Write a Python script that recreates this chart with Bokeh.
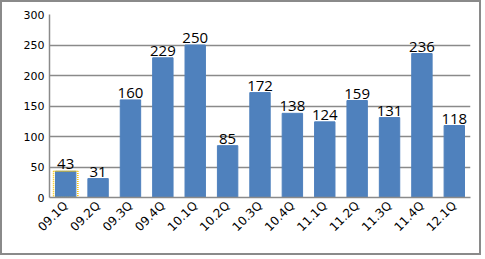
import math
from bokeh.plotting import figure
from bokeh.models import ColumnDataSource, FixedTicker
from bokeh.core.properties import value
from bokeh.embed import file_html
from bokeh.resources import INLINE

quarters = ["09.1Q", "09.2Q", "09.3Q", "09.4Q", "10.1Q", "10.2Q", "10.3Q",
            "10.4Q", "11.1Q", "11.2Q", "11.3Q", "11.4Q", "12.1Q"]
values = [43, 31, 160, 229, 250, 85, 172, 138, 124, 159, 131, 236, 118]
y_ticks = [0, 50, 100, 150, 200, 250, 300]

src = ColumnDataSource(dict(x=quarters, top=values, label=[str(v) for v in values]))

p = figure(x_range=quarters, y_range=(0, 300), width=481, height=255,
           output_backend="svg", toolbar_location=None,
           min_border_left=47, min_border_right=13, min_border_top=12,
           min_border_bottom=60)
p.styles = {"border": "2px solid #8a8a8a"}
p.outline_line_color = None
p.background_fill_color = "white"
p.border_fill_color = "white"

p.vbar(x="x", top="top", width=0.63, source=src, color="#4f81bd")
# selection outline on first bar
p.vbar(x=[quarters[0]], top=[values[0]], width=0.75, fill_color=None,
       line_color="#f5c400", line_dash="1 1", line_width=1.5)

p.text(x="x", y="top", text="label", source=src, text_align="center",
       text_baseline="bottom", y_offset=-2,
       text_font=value("Open Sans"), text_font_size="15px", text_color="black")

p.yaxis.ticker = FixedTicker(ticks=y_ticks)
p.ygrid.grid_line_color = "#8a8a8a"
p.ygrid.grid_line_width = 1.5
p.xgrid.grid_line_color = None

for ax in (p.xaxis, p.yaxis):
    ax.axis_line_color = "#8a8a8a"
    ax.axis_line_width = 1.5
    ax.major_tick_line_color = None
    ax.minor_tick_line_color = None
    ax.major_tick_out = 0
    ax.major_tick_in = 0
    ax.minor_tick_out = 0
    ax.major_label_text_font = "DejaVu Sans"
    ax.major_label_text_color = "black"

p.yaxis.major_label_text_font_size = "11px"
p.yaxis.major_label_text_align = "right"
p.xaxis.major_label_text_font_size = "12px"
p.yaxis.major_label_standoff = 5
p.xaxis.major_label_orientation = math.pi / 4
p.xaxis.major_label_standoff = 6

open("out.html", "w").write(file_html(p, INLINE))
